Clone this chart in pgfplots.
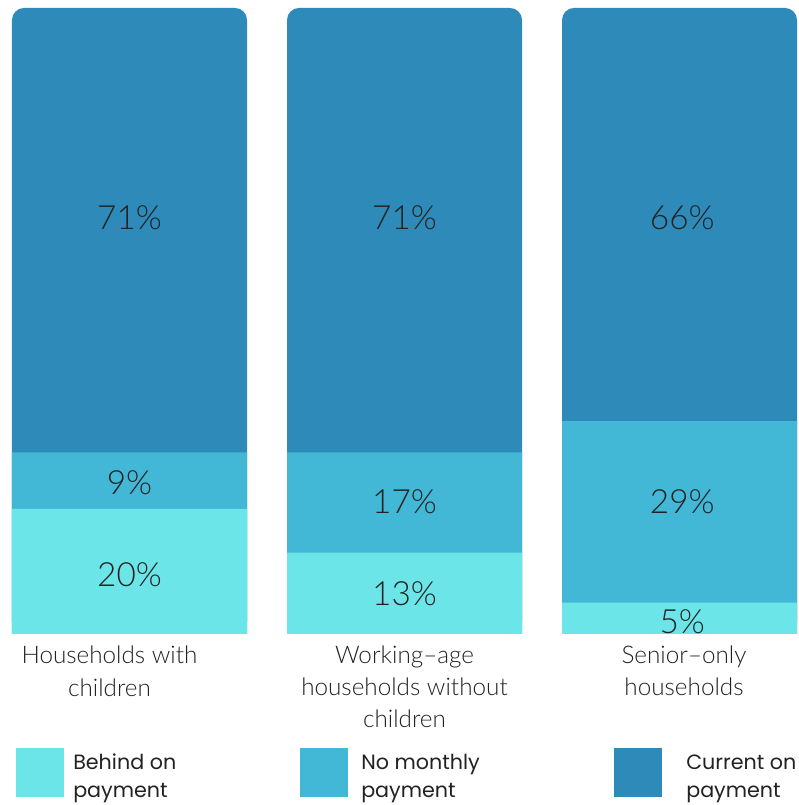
\documentclass[border=0pt]{standalone}
\usepackage{pgfplots}
\pgfplotsset{compat=1.18}
\usepackage{fontspec}
\setmainfont{Lato}
\newfontfamily\lblfont{Lato Light}
\newfontfamily\legfont{Poppins}
\definecolor{clight}{HTML}{6BE5E8}
\definecolor{cmid}{HTML}{42B7D6}
\definecolor{cdark}{HTML}{2E8BB9}
\definecolor{ctext}{HTML}{222222}
\begin{document}
\begin{tikzpicture}
\useasboundingbox (0,-128.25pt) rectangle (598.5pt,475.5pt);
\begin{axis}[at={(0,0)}, anchor=south west, scale only axis,
  width=598.5pt, height=469.5pt,
  xmin=-0.4709, xmax=2.4309, ymin=0, ymax=100,
  axis lines=none, ybar, bar width=176.25pt, bar shift=0pt, clip=false]
\addplot[fill=cdark, draw=none, rounded corners=9pt] coordinates {(0,100)(1,100)(2,100)};
\addplot[fill=cmid, draw=none] coordinates {(0,29)(1,29)(2,34)};
\addplot[fill=clight, draw=none] coordinates {(0,20)(1,13)(2,5)};
\begin{scope}[every node/.style={font=\lblfont\fontsize{25}{29}\selectfont, text=ctext}]
\node at (axis cs:0,66.45) {71\%};
\node at (axis cs:0,24.1) {9\%};
\node at (axis cs:0,9.4) {20\%};
\node at (axis cs:1,66.45) {71\%};
\node at (axis cs:1,21.2) {17\%};
\node at (axis cs:1,6.4) {13\%};
\node at (axis cs:2.01,66.45) {66\%};
\node at (axis cs:2.01,21.1) {29\%};
\node at (axis cs:2.01,1.9) {5\%};
\end{scope}
\end{axis}
\begin{scope}[x=0.75pt, y=-0.75pt, shift={(0,475.5pt)}]
\begin{scope}[every node/.style={font=\lblfont\fontsize{18.2}{21}\selectfont, text=ctext, anchor=base, inner sep=0pt}]
\node at (109.5,663) {Households with};
\node at (109.5,696) {children};
\node at (404.5,663) {Working–age};
\node at (404.5,695) {households without};
\node at (404.5,727) {children};
\node at (684,663) {Senior–only};
\node at (684,695) {households};
\end{scope}
\fill[clight] (16,748) rectangle (64,797);
\fill[cmid] (300,748) rectangle (348,797);
\fill[cdark] (614,748) rectangle (662,797);
\begin{scope}[every node/.style={font=\legfont\fontsize{15.5}{18}\selectfont, text=ctext, anchor=base west, inner sep=0pt}]
\node at (73,769) {Behind on};
\node at (73,797) {payment};
\node at (361,769) {No monthly};
\node at (361,797) {payment};
\node at (686,769) {Current on};
\node at (686,797) {payment};
\end{scope}
\end{scope}
\end{tikzpicture}
\end{document}
